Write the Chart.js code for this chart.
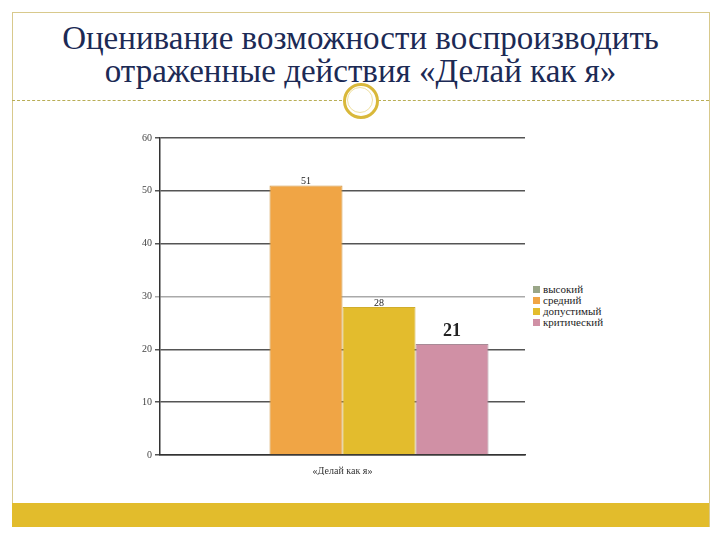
<!DOCTYPE html>
<html>
<head>
<meta charset="utf-8">
<script src="https://cdn.jsdelivr.net/npm/chart.js@4"></script>
<style>
  body { margin: 0; width: 720px; height: 540px; background: #fff; position: relative; overflow: hidden; }
  #frame { position: absolute; left: 12px; top: 12px; width: 696px; height: 514px; border-top: 1px solid #d8c98c; border-left: 1px solid #d8c98c; border-right: 1px solid #d8c98c; }
  #title { position: absolute; left: 12px; width: 697px; top: 22px; text-align: center; font-family: "Liberation Serif", serif; font-size: 33px; line-height: 33px; color: #1c2a55; }
  .dash { position: absolute; top: 100px; border-top: 1px dashed #b8ad55; }
  #ring { position: absolute; left: 343px; top: 83px; width: 30px; height: 30px; border: 3px solid #d9b83a; border-radius: 50%; background: #fff; }
  #ring2 { position: absolute; left: 347px; top: 87px; width: 24px; height: 24px; border: 1px solid #efe0a0; border-radius: 50%; }
  #footer { position: absolute; left: 12px; top: 503px; width: 697px; height: 24px; background: #e2bc2c; }
  #wrap { position: absolute; left: 130px; top: 125px; width: 400px; height: 350px; }
  #legend { position: absolute; left: 533px; top: 284px; font-family: "Liberation Serif", serif; font-size: 11px; line-height: 11px; color: #222; }
  #legend div { height: 11px; white-space: nowrap; }
  #legend span { display: inline-block; width: 7px; height: 7px; margin-right: 3px; vertical-align: 0px; }
</style>
</head>
<body>
<div id="frame"></div>
<div id="title">Оценивание возможности воспроизводить<br>отраженные действия «Делай как я»</div>
<div class="dash" style="left:12px;width:330px"></div>
<div class="dash" style="left:378px;width:331px"></div>
<div id="ring"></div>
<div id="ring2"></div>
<div id="footer"></div>
<div id="wrap"><canvas id="chart"></canvas></div>
<div id="legend"></div>
<script>
var categories = ['«Делай как я»'];
var seriesNames = ['высокий', 'средний', 'допустимый', 'критический'];
var seriesValues = [[0], [51], [28], [21]];
var seriesColors = ['#9aa688', '#f0a545', '#e3bc2d', '#d090a5'];
var seriesBorders = ['#7d8a6c', '#cf9646', '#d0ad2c', '#a88a96'];
var yTicks = [0, 10, 20, 30, 40, 50, 60];

document.addEventListener('DOMContentLoaded', function() {
    var legend = document.getElementById('legend');
    seriesNames.forEach(function(name, i) {
        var row = document.createElement('div');
        row.innerHTML = '<span style="background:' + seriesColors[i] + '"></span>' + name;
        legend.appendChild(row);
    });

    var labelPlugin = {
        id: 'barLabels',
        afterDatasetsDraw: function(chart) {
            var c = chart.ctx;
            chart.data.datasets.forEach(function(ds, i) {
                var meta = chart.getDatasetMeta(i);
                meta.data.forEach(function(bar, j) {
                    var v = ds.data[j];
                    if (!v) return;
                    c.save();
                    c.fillStyle = '#222';
                    c.textAlign = 'center';
                    c.textBaseline = 'bottom';
                    if (i == 3) {
                        c.font = 'bold 18px "Liberation Serif", serif';
                        c.fillText(v, bar.x, bar.y - 4);
                    } else {
                        c.font = '10px "Liberation Serif", serif';
                        c.fillText(v, bar.x, bar.y + 1);
                    }
                    c.restore();
                });
            });
        }
    };

    var ctx = document.getElementById('chart').getContext('2d');
    new Chart(ctx, {
        type: 'bar',
        data: {
            labels: categories,
            datasets: seriesNames.map(function(name, i) {
                return {
                    label: name,
                    data: seriesValues[i],
                    backgroundColor: seriesColors[i],
                    borderColor: seriesBorders[i],
                    borderWidth: 1,
                    barPercentage: 1.0,
                    categoryPercentage: 0.8
                };
            })
        },
        options: {
            responsive: true,
            maintainAspectRatio: false,
            animation: false,
            layout: { padding: { top: 13, right: 5, left: 0, bottom: 0 } },
            plugins: {
                legend: { display: false },
                tooltip: { enabled: false }
            },
            scales: {
                y: {
                    min: 0,
                    max: 60,
                    afterFit: function(scale) { scale.width = 30; },
                    afterBuildTicks: function(scale) {
                        scale.ticks = yTicks.map(function(v) { return { value: v }; });
                    },
                    border: { color: '#333', width: 1.5 },
                    grid: {
                        color: function(c) { return c.tick && c.tick.value == 30 ? '#aaa' : '#555'; },
                        lineWidth: 1.5,
                        tickLength: 5
                    },
                    ticks: {
                        color: '#444',
                        padding: 3,
                        font: { family: '"Liberation Serif", serif', size: 10 }
                    }
                },
                x: {
                    afterFit: function(scale) { scale.height = 20; },
                    border: { color: '#333', width: 1.5 },
                    grid: { display: false },
                    ticks: {
                        color: '#333',
                        padding: 2,
                        font: { family: '"Liberation Serif", serif', size: 10 }
                    }
                }
            }
        },
        plugins: [labelPlugin]
    });
});
</script>
</body>
</html>
